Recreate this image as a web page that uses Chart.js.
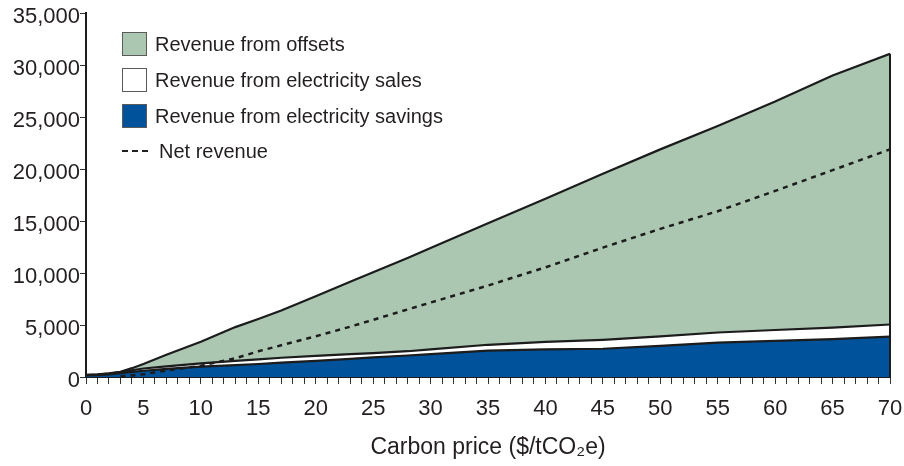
<!DOCTYPE html>
<html>
<head>
<meta charset="utf-8">
<script src="https://cdn.jsdelivr.net/npm/chart.js@4.4.1/dist/chart.umd.min.js"></script>
<style>
html,body{margin:0;padding:0;background:#fff;}
#wrap{position:relative;width:904px;height:466px;overflow:hidden;}
#legend{position:absolute;left:0;top:0;font-family:"Liberation Sans",Arial,Helvetica,sans-serif;font-size:20px;color:#231f20;}
.item{position:absolute;left:122px;height:24px;display:flex;align-items:center;white-space:nowrap;}
.box{box-sizing:border-box;width:25px;height:24px;border:1.5px solid #5a5a5a;margin-right:8px;}
</style>
</head>
<body>
<div id="wrap">
  <canvas id="c" width="904" height="466"></canvas>
  <div id="legend">
    <div class="item" style="top:32px"><span class="box" style="background:#abc7b1"></span><span>Revenue from offsets</span></div>
    <div class="item" style="top:68px"><span class="box" style="background:#ffffff"></span><span>Revenue from electricity sales</span></div>
    <div class="item" style="top:104px"><span class="box" style="background:#00529b"></span><span>Revenue from electricity savings</span></div>
    <div class="item" style="top:139px"><svg width="26" height="24" style="margin-right:11px"><line x1="0" y1="12" x2="26" y2="12" stroke="#231f20" stroke-width="2" stroke-dasharray="6,4"/></svg><span>Net revenue</span></div>
  </div>
</div>
<script>
// Carbon price ($/tCO2e)
const prices  = [0, 1, 2, 3, 4, 5, 7, 10, 13, 15, 17, 20, 23, 25, 28, 30, 35, 40, 45, 50, 55, 60, 65, 70];
// Revenue components (stacked)
const savings = [150, 180, 260, 380, 500, 600, 780, 1000, 1150, 1250, 1380, 1550, 1750, 1880, 2070, 2200, 2530, 2650, 2720, 3000, 3300, 3480, 3650, 3880];
const sales   = [30, 50, 70, 100, 150, 220, 240, 320, 410, 450, 470, 480, 450, 420, 410, 450, 570, 730, 860, 900, 980, 1040, 1100, 1170];
const offsets = [20, 20, 20, 20, 200, 430, 1130, 2080, 3240, 3880, 4550, 5730, 6960, 7780, 8970, 9770, 11700, 13770, 15970, 18000, 19870, 21980, 24250, 26050];
const net     = [null, null, null, 50, 150, 270, 620, 1080, 1800, 2470, 3050, 3920, 4840, 5500, 6500, 7160, 8800, 10550, 12450, 14250, 15950, 17900, 19900, 21900];

const FONT = '"Liberation Sans", Arial, Helvetica, sans-serif';
const INK = '#231f20';
const LINE = '#1c1c1c';

const pts = arr => prices.map((p, i) => ({x: p, y: arr[i]}));

const edgePlugin = {
  id: 'rightEdge',
  afterDatasetsDraw(chart) {
    const {ctx, scales: {x, y}} = chart;
    const i = prices.length - 1;
    const top = savings[i] + sales[i] + offsets[i];
    const px = x.getPixelForValue(prices[i]);
    ctx.save();
    ctx.strokeStyle = LINE;
    ctx.lineWidth = 2;
    ctx.beginPath();
    ctx.moveTo(px, y.getPixelForValue(0));
    ctx.lineTo(px, y.getPixelForValue(top));
    ctx.stroke();
    ctx.restore();
  }
};

new Chart(document.getElementById('c'), {
  type: 'line',
  data: {
    datasets: [
      { label: 'Net revenue', data: pts(net), stack: 'net', borderColor: LINE, borderWidth: 2.5,
        borderDash: [5, 5], fill: false, pointRadius: 0, tension: 0, spanGaps: false },
      { label: 'Revenue from electricity savings', data: pts(savings), stack: 'rev', borderColor: LINE, borderWidth: 2.2,
        backgroundColor: '#00529b', fill: 'origin', pointRadius: 0, tension: 0 },
      { label: 'Revenue from electricity sales', data: pts(sales), stack: 'rev', borderColor: LINE, borderWidth: 2.2,
        backgroundColor: '#ffffff', fill: 1, pointRadius: 0, tension: 0 },
      { label: 'Revenue from offsets', data: pts(offsets), stack: 'rev', borderColor: LINE, borderWidth: 2.2,
        backgroundColor: '#abc7b1', fill: 2, pointRadius: 0, tension: 0 }
    ]
  },
  options: {
    responsive: false,
    animation: false,
    events: [],
    layout: { padding: { top: 13, right: 0, left: 0, bottom: 0 } },
    plugins: { legend: { display: false }, tooltip: { enabled: false }, filler: { propagate: false } },
    scales: {
      x: {
        type: 'linear', min: 0, max: 70,
        border: { display: true, color: LINE, width: 2 },
        grid: { drawOnChartArea: false, drawTicks: true, tickLength: 7, color: '#333', lineWidth: 1 },
        ticks: {
          stepSize: 1, autoSkip: false, maxTicksLimit: 200, maxRotation: 0, minRotation: 0,
          padding: 12, color: INK, font: { family: FONT, size: 22 },
          callback: v => (v % 5 === 0 ? String(v) : '')
        },
        title: { display: true, text: 'Carbon price ($/tCO\u2082e)', color: INK,
          font: { family: FONT, size: 23 }, padding: { top: 4, bottom: 5 } },
        afterFit: s => { s.height = 89; s.paddingRight = 14; s.paddingLeft = 0; }
      },
      y: {
        stacked: true, min: 0, max: 35000,
        border: { display: true, color: LINE, width: 2 },
        grid: { drawOnChartArea: false, drawTicks: true, tickLength: 6, color: '#333', lineWidth: 1 },
        ticks: { stepSize: 5000, padding: 0, labelOffset: 4, color: INK, font: { family: FONT, size: 22 },
          callback: v => v.toLocaleString('en-US') },
        afterFit: s => { s.width = 86; }
      }
    }
  },
  plugins: [edgePlugin]
});
</script>
</body>
</html>
